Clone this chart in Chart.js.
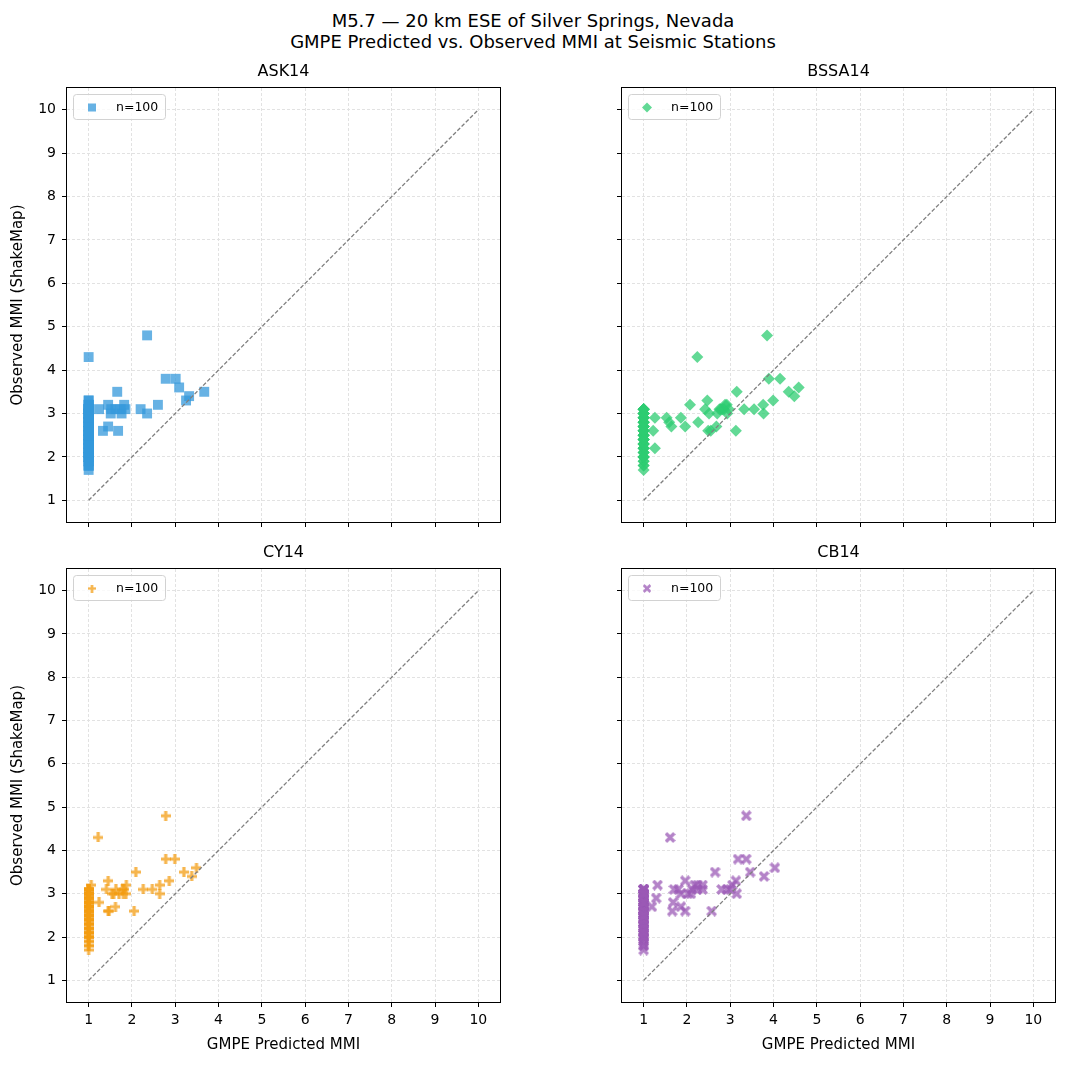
<!DOCTYPE html>
<html>
<head>
<meta charset="utf-8">
<script src="https://cdn.jsdelivr.net/npm/chart.js@4.4.0/dist/chart.umd.min.js"></script>
<style>
  body { margin: 0; background: #fff; width: 1066px; height: 1065px; position: relative; overflow: hidden; font-family: "DejaVu Sans", sans-serif; }
  .sup { position: absolute; left: 0; width: 1066px; text-align: center; font-size: 18px; line-height: 21px; color: #000; }
  canvas { position: absolute; }
</style>
</head>
<body>
<div class="sup" style="top:9.5px">M5.7 — 20 km ESE of Silver Springs, Nevada</div>
<div class="sup" style="top:30.5px">GMPE Predicted vs. Observed MMI at Seismic Stations</div>
<canvas id="c0" width="533" height="495" style="left:0;top:50px"></canvas>
<canvas id="c1" width="533" height="495" style="left:533px;top:50px"></canvas>
<canvas id="c2" width="533" height="520" style="left:0;top:545px"></canvas>
<canvas id="c3" width="533" height="520" style="left:533px;top:545px"></canvas>
<script>
// [predicted MMI, observed MMI] per station
const askPoints = [
  [1,1.7],[1,1.8],[1,1.8],[1,1.9],[1,1.9],[1,1.9],[1,2.0],[1,2.0],[1,2.0],[1,2.0],
  [1,2.1],[1,2.1],[1,2.1],[1,2.1],[1,2.2],[1,2.2],[1,2.2],[1,2.2],[1,2.3],[1,2.3],
  [1,2.3],[1,2.3],[1,2.4],[1,2.4],[1,2.4],[1,2.4],[1,2.5],[1,2.5],[1,2.5],[1,2.5],
  [1,2.6],[1,2.6],[1,2.6],[1,2.6],[1,2.7],[1,2.7],[1,2.7],[1,2.7],[1,2.8],[1,2.8],
  [1,2.8],[1,2.8],[1,2.9],[1,2.9],[1,2.9],[1,2.9],[1,3.0],[1,3.0],[1,3.0],[1,3.0],
  [1,3.0],[1,3.1],[1,3.1],[1,3.1],[1,3.1],[1,3.1],[1,3.1],[1,3.2],[1,3.2],[1,3.2],
  [1,3.3],[1,3.3],[1,2.0],[1,2.2],[1,2.4],[1,2.5],[1,2.6],[1,2.7],[1,2.8],[1,2.9],
  [1,3.0],[1,3.1],[1,2.3],[1,2.1],[1,1.8],[1,4.3],[1,2.5],
  [1.24,3.1],[1.33,2.6],[1.45,3.2],[1.45,2.7],[1.51,3.0],[1.52,3.1],[1.62,3.1],[1.66,3.5],[1.68,2.6],
  [1.74,3.1],[1.76,3.0],[1.82,3.2],[1.85,3.1],[2.2,3.1],[2.35,3.0],[2.35,4.8],[2.6,3.2],[2.78,3.8],[3.01,3.8],
  [3.09,3.6],[3.25,3.3],[3.32,3.4],[3.67,3.5]
];
const bssaPoints = [
  [1,1.7],[1,1.8],[1,1.8],[1,1.9],[1,1.9],[1,2.0],[1,2.0],[1,2.0],[1,2.1],[1,2.1],
  [1,2.1],[1,2.2],[1,2.2],[1,2.2],[1,2.3],[1,2.3],[1,2.3],[1,2.4],[1,2.4],[1,2.4],
  [1,2.4],[1,2.5],[1,2.5],[1,2.5],[1,2.5],[1,2.6],[1,2.6],[1,2.6],[1,2.6],[1,2.7],
  [1,2.7],[1,2.7],[1,2.7],[1,2.8],[1,2.8],[1,2.8],[1,2.8],[1,2.9],[1,2.9],[1,2.9],
  [1,2.9],[1,3.0],[1,3.0],[1,3.0],[1,3.0],[1,3.1],[1,3.1],[1,3.1],[1,3.1],[1,3.1],
  [1,2.0],[1,2.2],[1,2.3],[1,2.5],[1,2.6],[1,2.7],[1,2.8],[1,2.9],[1,3.0],[1,3.1],[1,2.4],
  [2.24,4.3],[3.85,4.8],[1.26,2.9],[1.22,2.6],[1.26,2.2],[1.53,2.9],[1.59,2.8],[1.64,2.7],[1.86,2.9],[1.96,2.7],
  [2.07,3.2],[2.26,2.8],[2.47,3.3],[2.42,3.1],[2.51,3.0],[2.49,2.6],[2.55,2.6],[2.68,2.7],[2.7,3.0],[2.78,3.1],
  [2.86,3.1],[2.92,3.2],[2.97,3.1],[2.93,3.0],[3.15,3.5],[3.13,2.6],[3.32,3.1],[3.55,3.1],[3.76,3.2],[3.77,3.0],
  [3.89,3.8],[3.99,3.3],[4.15,3.8],[4.35,3.5],[4.48,3.4],[4.58,3.6],[2.82,3.1],[2.75,3.1],[2.88,3.2]
];
const cyPoints = [
  [1,1.7],[1,1.8],[1,1.9],[1,1.9],[1,2.0],[1,2.0],[1,2.0],[1,2.1],[1,2.1],[1,2.1],
  [1,2.2],[1,2.2],[1,2.2],[1,2.3],[1,2.3],[1,2.3],[1,2.4],[1,2.4],[1,2.4],[1,2.4],
  [1,2.5],[1,2.5],[1,2.5],[1,2.5],[1,2.6],[1,2.6],[1,2.6],[1,2.6],[1,2.7],[1,2.7],
  [1,2.7],[1,2.7],[1,2.8],[1,2.8],[1,2.8],[1,2.8],[1,2.9],[1,2.9],[1,2.9],[1,2.9],
  [1,3.0],[1,3.0],[1,3.0],[1,3.0],[1,3.0],[1,3.1],[1,3.1],[1,3.1],[1,3.1],[1,3.1],
  [1,1.8],[1,2.0],[1,2.2],[1,2.3],[1,2.5],[1,2.6],[1,2.7],[1,2.8],[1,2.9],[1,3.0],
  [1,3.1],[1,2.4],[1,2.1],[1,2.6],[1,2.8],[1,3.0],[1,2.5],[1,2.9],[1,2.7],[1,3.1],
  [2.78,4.8],[1.22,4.3],[2.78,3.8],[2.99,3.8],[2.09,3.5],[3.2,3.5],[3.38,3.4],[3.49,3.6],[1.06,3.2],[1.45,3.3],
  [1.41,3.1],[1.54,3.0],[1.63,3.1],[1.7,3.0],[1.78,3.1],[1.82,3.1],[1.87,3.2],[1.86,3.0],[1.24,2.8],[1.45,2.6],
  [1.47,2.6],[1.62,2.7],[2.05,2.6],[2.26,3.1],[2.47,3.1],[2.64,3.2],[2.64,3.0],[2.86,3.3],[1.58,3.0],[1.8,3.0]
];
const cbPoints = [
  [1,1.7],[1,1.8],[1,1.8],[1,1.9],[1,1.9],[1,2.0],[1,2.0],[1,2.0],[1,2.1],[1,2.1],
  [1,2.1],[1,2.2],[1,2.2],[1,2.2],[1,2.3],[1,2.3],[1,2.3],[1,2.4],[1,2.4],[1,2.4],
  [1,2.4],[1,2.5],[1,2.5],[1,2.5],[1,2.5],[1,2.6],[1,2.6],[1,2.6],[1,2.6],[1,2.7],
  [1,2.7],[1,2.7],[1,2.7],[1,2.8],[1,2.8],[1,2.8],[1,2.8],[1,2.9],[1,2.9],[1,2.9],
  [1,2.9],[1,3.0],[1,3.0],[1,3.0],[1,3.0],[1,3.1],[1,3.1],[1,3.1],[1,3.1],[1,3.1],
  [1,2.0],[1,2.2],[1,2.3],[1,2.5],[1,2.6],[1,2.7],[1,2.8],[1,2.9],[1,3.0],[1,3.1],
  [1,2.4],[1,2.1],[1,2.6],[1,2.8],[1,3.0],[1,2.5],
  [3.37,4.8],[1.61,4.3],[3.18,3.8],[3.37,3.8],[2.65,3.5],[3.46,3.5],[3.78,3.4],[4.03,3.6],[1.32,3.2],[1.29,2.9],
  [1.19,2.7],[1.7,3.1],[1.8,3.1],[1.86,3.0],[1.96,3.3],[2.09,3.0],[2.12,3.1],[2.18,3.2],[2.24,3.1],[2.36,3.2],
  [2.36,3.1],[1.68,2.8],[1.86,2.7],[1.66,2.6],[1.96,2.6],[2.57,2.6],[2.8,3.1],[2.92,3.1],[3.0,3.1],[3.05,3.2],
  [3.13,3.3],[3.15,3.0],[2.02,3.0],[2.25,3.2]
];
const modelNames = ['ASK14', 'BSSA14', 'CY14', 'CB14'];
const legendLabels = ['n=100', 'n=100', 'n=100', 'n=100'];
const axisTicks = [1, 2, 3, 4, 5, 6, 7, 8, 9, 10];
const oneToOne = [1, 10];

const FONT = '"DejaVu Sans", sans-serif';
Chart.defaults.font.family = FONT;

// filled plus / X markers like matplotlib 'P' and 'X'
function makeMarker(kind, fill, size, half) {
  const c = document.createElement('canvas');
  c.width = size; c.height = size;
  const g = c.getContext('2d');
  const h = size / 2;
  const t = half;
  let L = h;
  g.translate(h, h);
  if (kind === 'x') { g.rotate(Math.PI / 4); L = h * 1.08; }
  g.fillStyle = fill;
  g.beginPath();
  g.moveTo(-t, -L); g.lineTo(t, -L); g.lineTo(t, -t); g.lineTo(L, -t);
  g.lineTo(L, t); g.lineTo(t, t); g.lineTo(t, L); g.lineTo(-t, L);
  g.lineTo(-t, t); g.lineTo(-L, t); g.lineTo(-L, -t); g.lineTo(-t, -t);
  g.closePath();
  g.fill();
  return c;
}

const panels = [
  { id: 'c0', pts: askPoints, fill: 'rgba(52,152,219,0.75)', style: 'rect', radius: 7, col: 0, row: 0 },
  { id: 'c1', pts: bssaPoints, fill: 'rgba(46,204,113,0.75)', style: 'rectRot', radius: 6, col: 1, row: 0 },
  { id: 'c2', pts: cyPoints, fill: 'rgba(243,156,18,0.75)', style: 'plus', radius: 5, col: 0, row: 1 },
  { id: 'c3', pts: cbPoints, fill: 'rgba(155,89,182,0.75)', style: 'x', radius: 5, col: 1, row: 1 }
];

const panelDecor = {
  id: 'panelDecor',
  afterDraw(chart, args, opts) {
    const { ctx, chartArea: a } = chart;
    ctx.save();
    // frame
    ctx.strokeStyle = '#000';
    ctx.lineWidth = 1;
    ctx.setLineDash([]);
    ctx.strokeRect(Math.round(a.left) - 0.5, Math.round(a.top) - 0.5,
      Math.round(a.right - a.left) + 1, Math.round(a.bottom - a.top) + 1);
    // title
    ctx.fillStyle = '#000';
    ctx.font = '16px ' + FONT;
    ctx.textAlign = 'center';
    ctx.textBaseline = 'middle';
    ctx.fillText(opts.title, (a.left + a.right) / 2, a.top - 16);
    // legend box
    const bx = a.left + 6, by = a.top + 6, bw = 92, bh = 25;
    ctx.beginPath();
    ctx.roundRect(bx + 0.5, by + 0.5, bw, bh, 3);
    ctx.fillStyle = 'rgba(255,255,255,0.8)';
    ctx.fill();
    ctx.strokeStyle = '#d2d2d2';
    ctx.stroke();
    const mx = a.left + 25, my = a.top + 19.5;
    ctx.fillStyle = opts.fill;
    if (opts.style === 'rect') {
      ctx.fillRect(mx - 4, my - 4, 8, 8);
    } else if (opts.style === 'rectRot') {
      ctx.beginPath();
      ctx.moveTo(mx, my - 5); ctx.lineTo(mx + 5, my); ctx.lineTo(mx, my + 5); ctx.lineTo(mx - 5, my);
      ctx.closePath(); ctx.fill();
    } else {
      const img = opts.marker;
      const s = img.width * 0.8;
      ctx.drawImage(img, mx - s / 2, my - s / 2, s, s);
    }
    ctx.fillStyle = '#000';
    ctx.font = '12.5px ' + FONT;
    ctx.textAlign = 'left';
    ctx.textBaseline = 'middle';
    ctx.fillText(opts.label, a.left + 49, a.top + 19.5);
    ctx.restore();
  }
};

panels.forEach((p, i) => {
  const yWidth = p.col === 0 ? 67 : 89;
  const padRight = p.col === 0 ? 33 : 11;
  const padTop = p.row === 0 ? 38 : 24;
  const xHeight = p.row === 0 ? 23 : 63;
  let pointStyle = p.style;
  let marker = null;
  if (p.style === 'plus') { marker = makeMarker('plus', p.fill, 10, 1.6); pointStyle = marker; }
  if (p.style === 'x') { marker = makeMarker('x', p.fill, 11, 1.7); pointStyle = marker; }

  const grid = {
    color: '#e2e2e2', lineWidth: 1, borderDash: [3, 2],
    tickColor: '#000', tickLength: 5, tickWidth: 1, tickBorderDash: []
  };

  new Chart(document.getElementById(p.id), {
    data: {
      datasets: [
        {
          type: 'line',
          data: oneToOne.map(v => ({ x: v, y: v })),
          borderColor: '#7f7f7f', borderWidth: 1.3, borderDash: [4, 2],
          pointRadius: 0, fill: false
        },
        {
          type: 'scatter',
          label: legendLabels[i],
          data: p.pts.map(d => ({ x: d[0], y: d[1] })),
          pointStyle: pointStyle,
          pointRadius: p.radius,
          backgroundColor: p.fill,
          borderWidth: 0
        }
      ]
    },
    options: {
      responsive: false,
      animation: false,
      events: [],
      layout: { padding: { left: 0, right: padRight, top: padTop, bottom: 0 } },
      plugins: {
        legend: { display: false },
        tooltip: { enabled: false },
        panelDecor: { title: modelNames[i], label: legendLabels[i], fill: p.fill, style: p.style, marker: marker }
      },
      scales: {
        x: {
          type: 'linear', min: 0.5, max: 10.5,
          afterBuildTicks: s => { s.ticks = axisTicks.map(v => ({ value: v })); },
          afterFit: s => { s.height = xHeight; },
          ticks: { display: p.row === 1, color: '#000', font: { size: 14 }, padding: 5 },
          grid: grid,
          border: { display: false, dash: [3, 2] },
          title: { display: p.row === 1, text: 'GMPE Predicted MMI', color: '#000', font: { size: 15 }, padding: { top: 0, bottom: 11 } }
        },
        y: {
          type: 'linear', min: 0.5, max: 10.5,
          afterBuildTicks: s => { s.ticks = axisTicks.map(v => ({ value: v })); },
          afterFit: s => { s.width = yWidth; },
          ticks: { display: p.col === 0, color: '#000', font: { size: 14 }, padding: 6 },
          grid: grid,
          border: { display: false, dash: [3, 2] },
          title: { display: p.col === 0, text: 'Observed MMI (ShakeMap)', color: '#000', font: { size: 15 }, padding: { top: 9, bottom: 0 } }
        }
      }
    },
    plugins: [panelDecor]
  });
});
</script>
</body>
</html>
